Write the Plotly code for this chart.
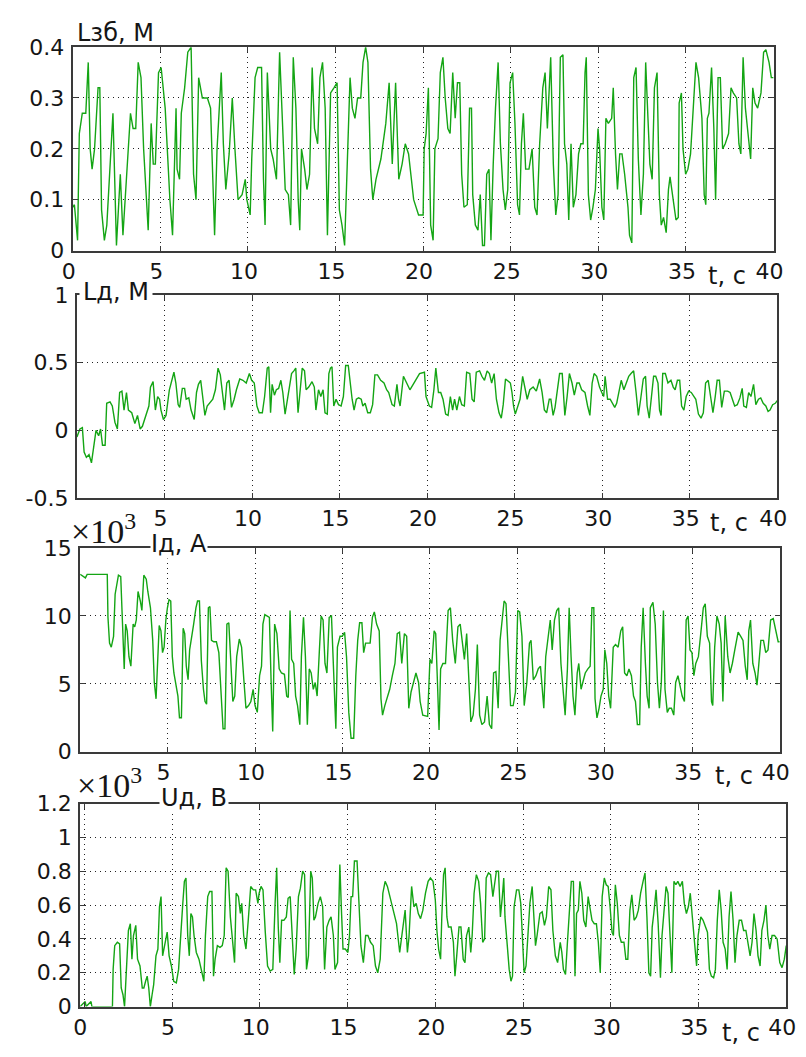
import plotly.graph_objects as go

# ---------------- data ----------------
t1 = [0.0, 0.1, 0.28, 0.38, 0.55, 0.75, 0.89, 1.0, 1.11, 1.25, 1.45, 1.55, 1.65, 1.81, 1.95, 2.3, 2.5, 2.72, 2.87, 2.98,
      3.3, 3.45, 3.6, 3.74, 3.9, 4.05, 4.31, 4.48, 4.6, 4.72, 4.9, 5.05, 5.28, 5.55, 5.7, 5.9, 5.96, 6.1, 6.2, 6.39,
      6.57, 6.76, 6.9, 7.04, 7.19, 7.4, 7.69, 7.87, 8.1, 8.24, 8.48, 8.6, 8.74, 8.93, 9.11, 9.26, 9.44, 9.67, 9.85, 9.94,
      10.13, 10.22, 10.41, 10.56, 10.78, 10.89, 10.98, 11.11, 11.3, 11.44, 11.63, 11.81, 11.94, 12.13, 12.31, 12.44, 12.59, 12.74, 12.87, 12.96,
      13.06, 13.24, 13.37, 13.52, 13.67, 13.8, 13.98, 14.11, 14.26, 14.41, 14.54, 14.72, 14.91, 15.09, 15.22, 15.37, 15.52, 15.7, 15.83, 15.96,
      16.11, 16.26, 16.44, 16.57, 16.72, 16.85, 17.0, 17.13, 17.31, 17.59, 17.87, 18.06, 18.24, 18.43, 18.61, 18.8, 18.98, 19.17, 19.46, 19.74,
      20.0, 20.06, 20.17, 20.3, 20.43, 20.57, 20.67, 20.85, 20.98, 21.13, 21.26, 21.41, 21.54, 21.69, 21.83, 21.96, 22.09, 22.2, 22.33, 22.52,
      22.65, 22.76, 22.83, 22.98, 23.13, 23.26, 23.39, 23.5, 23.63, 23.76, 23.87, 24.0, 24.13, 24.28, 24.41, 24.56, 24.69, 24.83, 24.96, 25.11,
      25.24, 25.39, 25.5, 25.61, 25.72, 25.85, 26.04, 26.22, 26.37, 26.5, 26.65, 26.83, 26.96, 27.09, 27.28, 27.43, 27.57, 27.7, 27.83, 27.98,
      28.07, 28.2, 28.31, 28.44, 28.57, 28.72, 28.87, 29.0, 29.13, 29.24, 29.31, 29.43, 29.56, 29.69, 29.83, 29.98, 30.07, 30.2, 30.31, 30.43,
      30.57, 30.76, 30.85, 30.98, 31.09, 31.22, 31.35, 31.5, 31.69, 31.78, 31.91, 32.02, 32.15, 32.28, 32.43, 32.57, 32.7, 32.83, 32.94, 33.07,
      33.2, 33.35, 33.48, 33.59, 33.72, 33.87, 34.0, 34.09, 34.24, 34.43, 34.56, 34.61, 34.74, 34.83, 34.98, 35.11, 35.26, 35.39, 35.57, 35.72,
      35.91, 36.04, 36.13, 36.22, 36.31, 36.46, 36.59, 36.69, 36.83, 36.96, 37.09, 37.24, 37.43, 37.57, 37.7, 37.89, 38.02, 38.13, 38.26, 38.39,
      38.54, 38.69, 38.81, 38.94, 39.09, 39.28, 39.43, 39.56, 39.74, 39.87, 40.0]
lzb = [0.085, 0.09, 0.02, 0.23, 0.27, 0.27, 0.37, 0.2, 0.16, 0.2, 0.32, 0.32, 0.08, 0.02, 0.05, 0.27, 0.01, 0.15, 0.03, 0.09,
       0.27, 0.24, 0.24, 0.37, 0.34, 0.2, 0.04, 0.25, 0.17, 0.17, 0.35, 0.36, 0.28, 0.1, 0.03, 0.28, 0.16, 0.14, 0.27, 0.32,
       0.39, 0.4, 0.15, 0.1, 0.34, 0.3, 0.3, 0.28, 0.03, 0.2, 0.35, 0.21, 0.12, 0.19, 0.3, 0.2, 0.1, 0.11, 0.14, 0.1,
       0.07, 0.18, 0.34, 0.36, 0.36, 0.14, 0.05, 0.35, 0.2, 0.18, 0.14, 0.39, 0.27, 0.12, 0.11, 0.05, 0.38, 0.28, 0.1, 0.04,
       0.2, 0.16, 0.12, 0.15, 0.36, 0.24, 0.21, 0.34, 0.37, 0.28, 0.03, 0.31, 0.32, 0.33, 0.08, 0.05, 0.01, 0.23, 0.34, 0.28,
       0.26, 0.3, 0.3, 0.37, 0.4, 0.37, 0.16, 0.1, 0.14, 0.18, 0.25, 0.33, 0.17, 0.33, 0.14, 0.17, 0.21, 0.19, 0.1, 0.07,
       0.07, 0.2, 0.23, 0.32, 0.05, 0.02, 0.2, 0.22, 0.35, 0.38, 0.3, 0.24, 0.23, 0.35, 0.26, 0.33, 0.33, 0.15, 0.085, 0.09,
       0.28, 0.28, 0.11, 0.05, 0.04, 0.11, 0.01, 0.01, 0.15, 0.16, 0.02, 0.17, 0.28, 0.37, 0.21, 0.12, 0.08, 0.12, 0.33, 0.35,
       0.25, 0.09, 0.07, 0.21, 0.27, 0.16, 0.16, 0.2, 0.085, 0.07, 0.21, 0.32, 0.35, 0.24, 0.38, 0.17, 0.07, 0.11, 0.38, 0.385,
       0.21, 0.17, 0.06, 0.21, 0.085, 0.11, 0.19, 0.21, 0.21, 0.35, 0.38, 0.11, 0.06, 0.085, 0.12, 0.24, 0.2, 0.085, 0.06, 0.26,
       0.25, 0.26, 0.32, 0.19, 0.12, 0.19, 0.19, 0.15, 0.085, 0.03, 0.015, 0.34, 0.36, 0.18, 0.07, 0.15, 0.37, 0.26, 0.17, 0.14,
       0.32, 0.35, 0.11, 0.05, 0.065, 0.035, 0.12, 0.145, 0.11, 0.06, 0.065, 0.29, 0.31, 0.2, 0.15, 0.16, 0.19, 0.26, 0.37, 0.34,
       0.26, 0.11, 0.09, 0.26, 0.27, 0.36, 0.24, 0.1, 0.34, 0.34, 0.2, 0.21, 0.23, 0.32, 0.31, 0.3, 0.21, 0.19, 0.38, 0.28,
       0.23, 0.18, 0.32, 0.29, 0.28, 0.31, 0.39, 0.395, 0.37, 0.34, 0.34]

t2 = [0.0, 0.17, 0.31, 0.41, 0.54, 0.69, 0.83, 0.96, 1.09, 1.24, 1.35, 1.46, 1.61, 1.7, 1.89, 2.02, 2.17, 2.31, 2.44, 2.57,
      2.69, 2.83, 2.94, 3.13, 3.31, 3.46, 3.61, 3.74, 3.93, 4.11, 4.2, 4.35, 4.48, 4.61, 4.72, 4.8, 4.94, 5.09, 5.28, 5.41,
      5.54, 5.65, 5.78, 5.87, 6.02, 6.15, 6.24, 6.39, 6.52, 6.7, 6.83, 6.94, 7.07, 7.2, 7.31, 7.44, 7.57, 7.76, 7.91, 8.06,
      8.19, 8.31, 8.43, 8.56, 8.69, 8.83, 8.98, 9.11, 9.3, 9.48, 9.67, 9.85, 9.98, 10.13, 10.28, 10.41, 10.59, 10.72, 10.87, 10.96,
      11.06, 11.15, 11.28, 11.39, 11.52, 11.65, 11.76, 11.89, 12.02, 12.13, 12.26, 12.39, 12.5, 12.63, 12.76, 12.87, 13.0, 13.09, 13.24, 13.43,
      13.56, 13.65, 13.8, 13.93, 14.06, 14.17, 14.3, 14.39, 14.48, 14.57, 14.67, 14.8, 14.94, 15.09, 15.22, 15.35, 15.5, 15.59, 15.72, 15.83,
      15.96, 16.09, 16.24, 16.33, 16.46, 16.61, 16.76, 16.89, 17.02, 17.17, 17.35, 17.54, 17.69, 17.81, 18.0, 18.13, 18.28, 18.37, 18.46, 18.65,
      18.83, 19.02, 19.3, 19.57, 19.85, 19.94, 20.13, 20.26, 20.39, 20.5, 20.65, 20.78, 20.91, 21.06, 21.2, 21.33, 21.46, 21.57, 21.7, 21.85,
      21.98, 22.13, 22.26, 22.44, 22.57, 22.69, 22.81, 23.0, 23.13, 23.28, 23.43, 23.56, 23.69, 23.83, 23.96, 24.11, 24.24, 24.35, 24.48, 24.63,
      24.76, 24.85, 24.94, 25.04, 25.17, 25.31, 25.46, 25.59, 25.72, 25.87, 26.06, 26.24, 26.43, 26.57, 26.7, 26.83, 26.98, 27.07, 27.2, 27.31,
      27.44, 27.57, 27.72, 27.87, 28.0, 28.13, 28.28, 28.41, 28.56, 28.69, 28.83, 29.02, 29.17, 29.3, 29.43, 29.54, 29.69, 29.85, 29.98, 30.09,
      30.17, 30.31, 30.46, 30.59, 30.72, 30.83, 30.96, 31.09, 31.24, 31.39, 31.52, 31.65, 31.8, 31.94, 32.07, 32.2, 32.35, 32.48, 32.57, 32.69,
      32.81, 32.94, 33.06, 33.19, 33.28, 33.37, 33.46, 33.61, 33.76, 33.93, 34.06, 34.17, 34.3, 34.43, 34.54, 34.67, 34.8, 34.94, 35.09, 35.22,
      35.35, 35.5, 35.65, 35.78, 35.91, 36.06, 36.2, 36.33, 36.46, 36.57, 36.7, 36.83, 36.98, 37.17, 37.31, 37.44, 37.57, 37.72, 37.87, 38.0,
      38.09, 38.24, 38.37, 38.5, 38.65, 38.78, 38.93, 39.06, 39.2, 39.35, 39.48, 39.59, 39.74, 39.89, 40.0]
ld = [-0.05, 0.01, 0.02, -0.16, -0.2, -0.18, -0.24, -0.11, 0.0, -0.04, 0.01, -0.11, -0.11, 0.2, 0.21, 0.18, 0.06, 0.01, 0.28, 0.29,
      0.15, 0.28, 0.15, 0.13, 0.05, 0.11, 0.01, 0.03, 0.11, 0.18, 0.32, 0.36, 0.15, 0.25, 0.23, 0.15, 0.08, 0.11, 0.3, 0.37,
      0.43, 0.35, 0.19, 0.17, 0.31, 0.31, 0.23, 0.24, 0.15, 0.08, 0.28, 0.34, 0.37, 0.23, 0.11, 0.18, 0.2, 0.23, 0.3, 0.46,
      0.41, 0.29, 0.15, 0.35, 0.37, 0.17, 0.23, 0.3, 0.38, 0.37, 0.35, 0.42, 0.37, 0.35, 0.18, 0.13, 0.13, 0.25, 0.46, 0.47,
      0.13, 0.34, 0.26, 0.3, 0.31, 0.37, 0.28, 0.12, 0.23, 0.32, 0.42, 0.44, 0.46, 0.13, 0.3, 0.46, 0.44, 0.3, 0.32, 0.36,
      0.32, 0.15, 0.3, 0.25, 0.3, 0.13, 0.12, 0.42, 0.46, 0.47, 0.18, 0.23, 0.19, 0.18, 0.25, 0.48, 0.48, 0.37, 0.23, 0.15,
      0.23, 0.24, 0.23, 0.18, 0.2, 0.13, 0.13, 0.19, 0.41, 0.41, 0.37, 0.35, 0.3, 0.28, 0.19, 0.18, 0.34, 0.23, 0.18, 0.4,
      0.35, 0.3, 0.36, 0.42, 0.43, 0.25, 0.18, 0.17, 0.3, 0.46, 0.28, 0.28, 0.23, 0.12, 0.11, 0.25, 0.15, 0.23, 0.15, 0.25,
      0.19, 0.18, 0.43, 0.42, 0.23, 0.21, 0.43, 0.44, 0.4, 0.37, 0.44, 0.42, 0.35, 0.42, 0.23, 0.13, 0.09, 0.19, 0.38, 0.36,
      0.35, 0.28, 0.18, 0.12, 0.18, 0.23, 0.4, 0.32, 0.23, 0.3, 0.32, 0.29, 0.38, 0.28, 0.15, 0.13, 0.23, 0.23, 0.11, 0.17,
      0.28, 0.42, 0.42, 0.11, 0.25, 0.42, 0.35, 0.26, 0.35, 0.35, 0.3, 0.28, 0.18, 0.11, 0.35, 0.42, 0.4, 0.32, 0.28, 0.25,
      0.4, 0.23, 0.23, 0.2, 0.17, 0.2, 0.3, 0.37, 0.3, 0.35, 0.4, 0.42, 0.44, 0.28, 0.11, 0.23, 0.38, 0.4, 0.18, 0.09,
      0.25, 0.4, 0.4, 0.35, 0.15, 0.11, 0.42, 0.42, 0.35, 0.37, 0.32, 0.3, 0.37, 0.37, 0.18, 0.15, 0.25, 0.29, 0.28, 0.25,
      0.23, 0.12, 0.09, 0.13, 0.35, 0.37, 0.23, 0.13, 0.25, 0.37, 0.37, 0.17, 0.29, 0.29, 0.28, 0.23, 0.18, 0.19, 0.24, 0.31,
      0.18, 0.17, 0.28, 0.25, 0.34, 0.19, 0.23, 0.24, 0.2, 0.18, 0.14, 0.15, 0.19, 0.2, 0.22]

t3 = [0.0, 0.3, 0.4, 1.55, 1.59, 1.68, 1.78, 1.91, 2.0, 2.09, 2.19, 2.32, 2.41, 2.52, 2.6, 2.69, 2.79, 2.9, 3.03, 3.12, 3.21,
      3.31, 3.44, 3.53, 3.64, 3.78, 3.87, 4.02, 4.15, 4.24, 4.34, 4.43, 4.52, 4.62, 4.71, 4.8, 4.9, 4.99, 5.08, 5.18, 5.27,
      5.36, 5.5, 5.59, 5.68, 5.79, 5.89, 5.98, 6.07, 6.17, 6.26, 6.36, 6.49, 6.62, 6.71, 6.82, 6.93, 7.05, 7.14, 7.23, 7.33,
      7.42, 7.51, 7.64, 7.79, 7.93, 8.07, 8.17, 8.28, 8.39, 8.5, 8.62, 8.73, 8.84, 8.95, 9.1, 9.23, 9.36, 9.48, 9.63, 9.76,
      9.89, 10.0, 10.13, 10.26, 10.37, 10.45, 10.56, 10.69, 10.82, 10.92, 11.01, 11.12, 11.25, 11.38, 11.51, 11.68, 11.81, 11.9, 12.0, 12.09,
      12.21, 12.32, 12.43, 12.56, 12.65, 12.77, 12.88, 12.99, 13.1, 13.21, 13.33, 13.44, 13.55, 13.68, 13.78, 13.89, 14.0, 14.11, 14.24, 14.37,
      14.49, 14.62, 14.71, 14.86, 14.99, 15.12, 15.23, 15.36, 15.49, 15.64, 15.76, 15.87, 15.98, 16.11, 16.21, 16.32, 16.43, 16.58, 16.71, 16.82,
      16.95, 17.1, 17.2, 17.29, 17.42, 17.55, 17.7, 17.85, 18.0, 18.13, 18.26, 18.39, 18.54, 18.67, 18.79, 18.92, 19.05, 19.2, 19.35, 19.44,
      19.59, 19.87, 20.0, 20.11, 20.24, 20.33, 20.43, 20.52, 20.61, 20.74, 20.89, 21.04, 21.17, 21.3, 21.45, 21.6, 21.73, 21.86, 21.97, 22.1,
      22.23, 22.34, 22.47, 22.6, 22.71, 22.84, 22.97, 23.12, 23.27, 23.4, 23.53, 23.64, 23.77, 23.9, 24.01, 24.14, 24.24, 24.35, 24.46, 24.61,
      24.76, 24.89, 25.02, 25.13, 25.26, 25.39, 25.54, 25.69, 25.78, 25.91, 26.06, 26.19, 26.32, 26.43, 26.51, 26.62, 26.75, 26.88, 26.99, 27.12,
      27.25, 27.36, 27.49, 27.62, 27.73, 27.86, 27.96, 28.07, 28.18, 28.29, 28.42, 28.51, 28.64, 28.74, 28.88, 29.03, 29.16, 29.26, 29.37, 29.44,
      29.55, 29.67, 29.78, 29.91, 30.0, 30.11, 30.22, 30.33, 30.48, 30.61, 30.76, 30.91, 31.02, 31.13, 31.26, 31.38, 31.52, 31.64, 31.75, 31.86,
      31.99, 32.08, 32.19, 32.32, 32.42, 32.53, 32.6, 32.75, 32.88, 33.01, 33.12, 33.23, 33.35, 33.44, 33.57, 33.68, 33.81, 33.94, 34.05, 34.18,
      34.31, 34.42, 34.55, 34.65, 34.76, 34.87, 34.98, 35.09, 35.2, 35.35, 35.5, 35.63, 35.74, 35.86, 35.99, 36.1, 36.17, 36.28, 36.41, 36.54,
      36.65, 36.75, 36.88, 37.03, 37.16, 37.29, 37.43, 37.62, 37.77, 37.9, 38.03, 38.14, 38.23, 38.33, 38.46, 38.59, 38.7, 38.79, 38.92, 39.07,
      39.2, 39.33, 39.48, 39.63, 39.76, 39.91, 40.0]
id_ka = [13.06, 12.8, 13.06, 13.06, 9.9, 8.0, 7.7, 8.5, 11.6, 12.2, 13.0, 12.9, 10.1, 6.1, 9.4, 8.9, 7.0, 6.3, 9.4, 9.2, 9.7,
         11.8, 11.1, 10.4, 13.0, 12.7, 11.8, 10.6, 8.2, 5.1, 3.9, 7.0, 9.3, 8.9, 7.3, 7.7, 9.7, 10.6, 11.2, 11.1, 7.0,
         5.8, 4.6, 4.1, 2.5, 2.5, 9.1, 8.7, 6.3, 5.3, 7.5, 8.5, 9.4, 10.6, 11.1, 11.1, 6.7, 4.6, 3.7, 3.5, 10.6,
         10.7, 8.2, 8.1, 8.1, 7.3, 4.1, 1.7, 1.7, 9.4, 9.5, 5.8, 3.7, 4.1, 7.0, 8.3, 7.7, 5.3, 3.2, 3.4, 3.7,
         4.6, 3.4, 2.9, 5.6, 6.3, 9.4, 10.1, 10.0, 9.9, 5.1, 1.5, 9.4, 8.7, 6.1, 5.8, 5.7, 4.1, 4.0, 10.4, 6.8,
         6.5, 4.1, 3.4, 2.0, 7.0, 9.9, 7.0, 2.0, 6.1, 5.8, 4.6, 5.1, 4.1, 7.5, 10.0, 9.7, 6.5, 5.8, 9.9, 10.0,
         5.8, 1.7, 7.7, 8.5, 8.5, 8.8, 7.0, 2.9, 1.0, 1.0, 5.6, 8.2, 9.5, 9.5, 7.3, 8.0, 8.0, 8.0, 9.9, 10.3,
         9.4, 8.9, 3.9, 2.7, 3.4, 3.9, 4.6, 5.6, 6.5, 8.7, 8.8, 6.5, 8.7, 8.5, 3.2, 4.4, 5.1, 5.8, 5.1, 3.7,
         2.7, 2.6, 6.8, 6.5, 8.9, 8.7, 5.1, 1.6, 6.1, 6.5, 6.5, 10.4, 10.6, 8.2, 6.5, 9.2, 9.4, 7.7, 6.8, 8.7,
         5.3, 2.2, 2.7, 4.6, 7.9, 2.7, 2.0, 2.2, 4.1, 2.0, 1.7, 5.8, 5.9, 3.2, 8.2, 9.9, 11.1, 10.9, 7.5, 3.4,
         3.4, 4.4, 10.4, 10.3, 8.5, 3.4, 5.1, 8.0, 8.2, 5.3, 5.6, 6.1, 6.3, 4.1, 3.2, 7.0, 8.2, 9.7, 7.5, 9.7,
         10.4, 10.6, 6.5, 4.1, 2.7, 6.1, 10.6, 7.0, 4.1, 2.7, 5.8, 6.5, 4.6, 5.1, 5.8, 6.1, 6.3, 10.6, 10.6, 3.9,
         2.5, 3.2, 4.1, 4.6, 7.5, 6.5, 4.1, 3.2, 7.7, 7.9, 7.7, 8.9, 9.2, 5.8, 5.6, 6.1, 5.6, 4.1, 3.7, 2.0,
         2.0, 7.7, 10.6, 6.5, 4.1, 3.2, 10.6, 11.0, 9.4, 5.1, 3.2, 5.1, 10.4, 4.6, 2.9, 3.2, 3.2, 2.7, 5.1, 5.6,
         4.9, 4.1, 3.7, 9.7, 10.0, 7.5, 7.3, 5.6, 6.5, 7.0, 8.9, 10.6, 10.9, 8.5, 8.0, 3.7, 3.4, 7.7, 10.0, 9.4,
         8.0, 3.7, 10.0, 7.0, 5.8, 6.5, 7.5, 8.8, 8.5, 8.2, 6.3, 5.3, 8.9, 9.7, 6.5, 5.8, 4.9, 6.5, 8.2, 8.2,
         7.3, 7.5, 9.7, 9.8, 8.9, 8.1, 8.1]

t4 = [-0.24, 0.05, 0.1, 0.38, 0.43, 1.6, 1.64, 1.73, 1.88, 2.01, 2.1, 2.2, 2.29, 2.38, 2.51, 2.62, 2.71, 2.8, 2.93, 3.03, 3.17,
      3.3, 3.39, 3.49, 3.58, 3.67, 3.76, 3.86, 3.95, 4.08, 4.19, 4.28, 4.37, 4.46, 4.59, 4.72, 4.83, 4.96, 5.09, 5.24, 5.37,
      5.48, 5.61, 5.7, 5.79, 5.89, 5.98, 6.07, 6.16, 6.25, 6.38, 6.53, 6.68, 6.81, 6.9, 7.03, 7.14, 7.27, 7.36, 7.45, 7.58,
      7.73, 7.86, 7.97, 8.08, 8.19, 8.32, 8.43, 8.56, 8.65, 8.78, 8.89, 8.97, 9.08, 9.21, 9.34, 9.48, 9.63, 9.76, 9.89, 9.96,
      10.07, 10.18, 10.31, 10.44, 10.59, 10.74, 10.87, 10.96, 11.05, 11.14, 11.24, 11.37, 11.51, 11.61, 11.73, 11.85, 11.96, 12.07, 12.2, 12.31,
      12.44, 12.55, 12.66, 12.77, 12.9, 12.99, 13.08, 13.17, 13.32, 13.45, 13.58, 13.69, 13.82, 13.95, 14.06, 14.19, 14.28, 14.43, 14.56, 14.65,
      14.74, 14.87, 15.02, 15.11, 15.2, 15.29, 15.39, 15.54, 15.66, 15.76, 15.9, 16.03, 16.16, 16.31, 16.46, 16.59, 16.72, 16.86, 17.01, 17.14,
      17.27, 17.42, 17.6, 17.79, 17.97, 18.13, 18.28, 18.41, 18.5, 18.65, 18.78, 18.91, 19.03, 19.16, 19.29, 19.44, 19.59, 19.72, 19.87, 20.0,
      20.09, 20.19, 20.3, 20.37, 20.47, 20.56, 20.66, 20.75, 20.9, 21.03, 21.12, 21.22, 21.35, 21.46, 21.59, 21.69, 21.78, 21.91, 22.02, 22.1,
      22.21, 22.34, 22.47, 22.58, 22.7, 22.81, 22.9, 23.03, 23.15, 23.28, 23.37, 23.48, 23.6, 23.71, 23.82, 23.9, 23.97, 24.08, 24.21, 24.31,
      24.4, 24.49, 24.63, 24.76, 24.87, 24.96, 25.06, 25.17, 25.28, 25.39, 25.52, 25.62, 25.71, 25.8, 25.96, 26.09, 26.22, 26.33, 26.46, 26.59,
      26.7, 26.84, 26.97, 27.12, 27.21, 27.3, 27.42, 27.53, 27.64, 27.75, 27.87, 27.96, 28.05, 28.15, 28.24, 28.35, 28.46, 28.58, 28.71, 28.8,
      28.93, 29.06, 29.18, 29.29, 29.4, 29.51, 29.63, 29.74, 29.85, 29.96, 30.07, 30.15, 30.26, 30.37, 30.49, 30.6, 30.75, 30.86, 30.97, 31.09,
      31.2, 31.33, 31.46, 31.57, 31.7, 31.84, 31.95, 32.06, 32.17, 32.27, 32.36, 32.45, 32.58, 32.7, 32.83, 32.92, 33.03, 33.15, 33.26, 33.39,
      33.48, 33.6, 33.71, 33.82, 33.95, 34.08, 34.19, 34.31, 34.42, 34.53, 34.64, 34.76, 34.89, 34.98, 35.13, 35.26, 35.39, 35.51, 35.62, 35.73,
      35.86, 35.96, 36.07, 36.18, 36.29, 36.4, 36.52, 36.63, 36.74, 36.85, 36.97, 37.08, 37.19, 37.32, 37.45, 37.57, 37.7, 37.83, 37.94, 38.05,
      38.16, 38.28, 38.39, 38.51, 38.61, 38.73, 38.84, 38.95, 39.06, 39.19, 39.33, 39.48, 39.63, 39.76, 39.89, 40.0]
ud_kv = [0.0, 0.03, 0.0, 0.03, 0.0, 0.0, 0.22, 0.36, 0.38, 0.37, 0.11, 0.07, 0.0, 0.22, 0.45, 0.49, 0.28, 0.42, 0.48, 0.28, 0.24,
         0.11, 0.11, 0.15, 0.18, 0.11, 0.0, 0.07, 0.13, 0.3, 0.34, 0.59, 0.65, 0.3, 0.38, 0.44, 0.3, 0.24, 0.15, 0.14, 0.22,
         0.42, 0.61, 0.74, 0.76, 0.42, 0.3, 0.55, 0.53, 0.42, 0.32, 0.28, 0.2, 0.15, 0.42, 0.65, 0.68, 0.68, 0.18, 0.28, 0.36,
         0.35, 0.36, 0.42, 0.82, 0.8, 0.53, 0.38, 0.26, 0.67, 0.65, 0.55, 0.61, 0.42, 0.34, 0.51, 0.71, 0.69, 0.69, 0.61, 0.67,
         0.71, 0.69, 0.44, 0.24, 0.21, 0.22, 0.61, 0.82, 0.47, 0.26, 0.51, 0.51, 0.53, 0.64, 0.65, 0.38, 0.19, 0.34, 0.65, 0.7,
         0.8, 0.78, 0.22, 0.3, 0.8, 0.76, 0.51, 0.53, 0.61, 0.65, 0.59, 0.22, 0.47, 0.51, 0.53, 0.42, 0.22, 0.26, 0.84, 0.57,
         0.34, 0.34, 0.32, 0.42, 0.65, 0.65, 0.86, 0.86, 0.61, 0.36, 0.26, 0.42, 0.42, 0.38, 0.36, 0.24, 0.2, 0.28, 0.67, 0.74,
         0.71, 0.65, 0.57, 0.49, 0.32, 0.45, 0.57, 0.32, 0.41, 0.71, 0.59, 0.61, 0.55, 0.52, 0.57, 0.67, 0.74, 0.76, 0.74, 0.63,
         0.45, 0.34, 0.28, 0.53, 0.78, 0.82, 0.53, 0.47, 0.47, 0.38, 0.18, 0.3, 0.47, 0.47, 0.28, 0.26, 0.42, 0.47, 0.32, 0.42,
         0.67, 0.78, 0.74, 0.61, 0.38, 0.4, 0.76, 0.79, 0.78, 0.65, 0.72, 0.8, 0.8, 0.53, 0.65, 0.76, 0.53, 0.38, 0.22, 0.15,
         0.18, 0.59, 0.69, 0.69, 0.61, 0.42, 0.2, 0.24, 0.45, 0.61, 0.71, 0.55, 0.36, 0.42, 0.55, 0.56, 0.48, 0.53, 0.71, 0.69,
         0.45, 0.3, 0.26, 0.38, 0.32, 0.22, 0.19, 0.38, 0.55, 0.74, 0.74, 0.18, 0.55, 0.57, 0.74, 0.67, 0.51, 0.47, 0.65, 0.59,
         0.51, 0.49, 0.49, 0.38, 0.2, 0.65, 0.76, 0.72, 0.71, 0.59, 0.44, 0.42, 0.72, 0.61, 0.42, 0.38, 0.38, 0.28, 0.28, 0.57,
         0.66, 0.51, 0.53, 0.57, 0.67, 0.74, 0.79, 0.53, 0.2, 0.18, 0.47, 0.55, 0.69, 0.49, 0.17, 0.42, 0.57, 0.71, 0.67, 0.42,
         0.2, 0.74, 0.72, 0.74, 0.71, 0.74, 0.61, 0.55, 0.59, 0.67, 0.53, 0.42, 0.24, 0.42, 0.53, 0.51, 0.47, 0.44, 0.22, 0.18,
         0.17, 0.22, 0.51, 0.69, 0.57, 0.38, 0.34, 0.22, 0.53, 0.68, 0.51, 0.26, 0.42, 0.51, 0.51, 0.45, 0.45, 0.36, 0.3, 0.38,
         0.55, 0.45, 0.3, 0.24, 0.45, 0.51, 0.6, 0.42, 0.34, 0.42, 0.42, 0.4, 0.26, 0.23, 0.28, 0.36]

x_ticks = [0, 5, 10, 15, 20, 25, 30, 35, 40]
y1_ticks = [0, 0.1, 0.2, 0.3, 0.4]
y1_text = ["0", "0.1", "0.2", "0.3", "0.4"]
y2_ticks = [-0.5, 0, 0.5, 1]
y2_text = ["-0.5", "0", "0.5", "1"]
y3_ticks = [0, 5, 10, 15]
y3_text = ["0", "5", "10", "15"]
y4_ticks = [0, 0.2, 0.4, 0.6, 0.8, 1, 1.2]
y4_text = ["0", "0.2", "0.4", "0.6", "0.8", "1", "1.2"]
titles = ["Lзб, М", "Lд, М", "Iд, А", "Uд, В"]
x_label = "t, с"

# ---------------- figure ----------------
W, H = 806, 1057
GREEN = "rgb(20,165,20)"
INK = "#151515"
FONT = "DejaVu Sans"


def fx(px):
    return px / W


def fy(py):
    return 1 - py / H


panels = [
    dict(t=t1, v=lzb, box=(63.3, 783, 36, 244.3), xr=[0, 40], yr=[0, 0.4], xt=x_ticks, yt=y1_ticks, ytt=y1_text),
    dict(t=t2, v=ld, box=(67.7, 786.7, 290, 497.7), xr=[0, 40], yr=[-0.5, 1], xt=x_ticks[1:], yt=y2_ticks, ytt=y2_text),
    dict(t=t3, v=id_ka, box=(71, 789.3, 549, 757.7), xr=[0, 40], yr=[0, 15], xt=x_ticks[1:], yt=y3_ticks, ytt=y3_text),
    dict(t=t4, v=ud_kv, box=(71, 796, 810.7, 1018.7), xr=[-0.24, 40], yr=[0, 1.2], xt=x_ticks, yt=y4_ticks, ytt=y4_text),
]

fig = go.Figure()
layout = dict(
    width=W, height=H, margin=dict(l=0, r=0, t=0, b=0),
    paper_bgcolor="white", plot_bgcolor="white", showlegend=False,
    font=dict(family=FONT, size=22, color=INK),
)

for i, p in enumerate(panels, start=1):
    sx = "" if i == 1 else str(i)
    x0, x1, y0, y1 = p["box"]
    fig.add_trace(go.Scatter(
        x=p["t"], y=p["v"], mode="lines", line=dict(color=GREEN, width=1.4, shape="linear"),
        xaxis="x" + sx, yaxis="y" + sx, hoverinfo="skip"))
    common = dict(showline=True, linecolor="#3a3a3a", linewidth=2, mirror="allticks",
                  ticks="inside", ticklen=5, tickcolor="#3a3a3a", tickwidth=1,
                  showgrid=True, gridcolor="#222", gridwidth=1, griddash="1px,4px",
                  zeroline=False, tickfont=dict(family=FONT, size=22, color=INK))
    layout["xaxis" + sx] = dict(common, domain=[fx(x0), fx(x1)], range=p["xr"], anchor="y" + sx,
                                tickmode="array", tickvals=p["xt"], ticktext=[str(v) for v in p["xt"]],
                                ticklabelshift=-4)
    layout["yaxis" + sx] = dict(common, domain=[fy(y1), fy(y0)], range=p["yr"], anchor="x" + sx,
                                tickmode="array", tickvals=p["yt"], ticktext=p["ytt"], ticklabelstandoff=2)

fig.update_layout(**layout)

ann_font = dict(family=FONT, size=24, color=INK)
serif_font = dict(family="Liberation Serif", size=34, color=INK)
# panel titles
fig.add_annotation(x=fx(66), y=fy(22), xref="paper", yref="paper", text=titles[0], showarrow=False,
                   xanchor="left", yanchor="middle", font=ann_font)
fig.add_annotation(x=fx(70), y=fy(287), xref="paper", yref="paper", text=titles[1], showarrow=False,
                   xanchor="left", yanchor="middle", font=ann_font, bgcolor="white", borderpad=3)
fig.add_annotation(x=fx(60), y=fy(530), xref="paper", yref="paper", text="×10<sup>3</sup>", showarrow=False,
                   xanchor="left", yanchor="middle", font=serif_font)
fig.add_annotation(x=fx(143), y=fy(545), xref="paper", yref="paper", text=titles[2], showarrow=False,
                   xanchor="left", yanchor="middle", font=ann_font, bgcolor="white", borderpad=0)
fig.add_annotation(x=fx(66), y=fy(790), xref="paper", yref="paper", text="×10<sup>3</sup>", showarrow=False,
                   xanchor="left", yanchor="middle", font=serif_font)
fig.add_annotation(x=fx(152), y=fy(805), xref="paper", yref="paper", text=titles[3], showarrow=False,
                   xanchor="left", yanchor="middle", font=ann_font, bgcolor="white", borderpad=1)
# x axis labels
for cx, cy in [(735, 270), (737, 523), (742, 782), (750, 1046)]:
    fig.add_annotation(x=fx(cx), y=fy(cy), xref="paper", yref="paper", text=x_label, showarrow=False,
                       xanchor="center", yanchor="middle", font=ann_font)

fig.write_html("out.html", config={"displayModeBar": False},
               post_script="document.body.style.margin='0';document.body.style.overflow='hidden';")
